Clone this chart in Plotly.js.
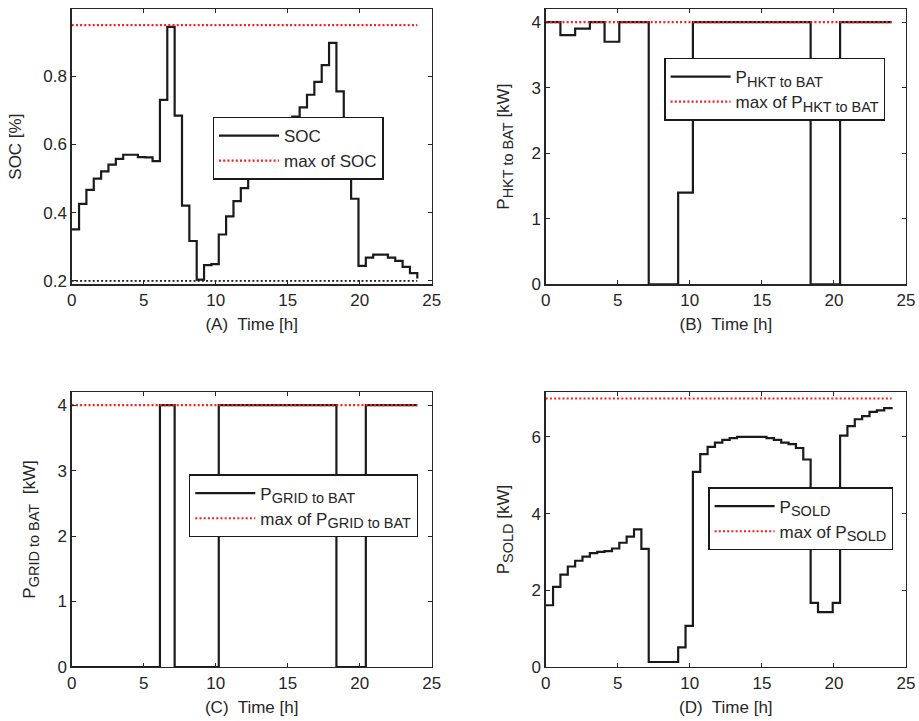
<!DOCTYPE html>
<html>
<head>
<meta charset="utf-8">
<script src="https://cdn.plot.ly/plotly-3.0.1.min.js"></script>
<style>html,body{margin:0;padding:0;background:#fff}#chart{width:919px;height:721px}</style>
</head>
<body>
<div id="chart"></div>
<script>
// ---- data (hours, 48 steps) ----
const tHours = [0, 0.511, 1.021, 1.532, 2.043, 2.553, 3.064, 3.574, 4.085, 4.596, 5.106, 5.617,
  6.128, 6.638, 7.149, 7.660, 8.170, 8.681, 9.191, 9.702, 10.213, 10.723, 11.234, 11.745,
  12.255, 12.766, 13.277, 13.787, 14.298, 14.809, 15.319, 15.830, 16.340, 16.851, 17.362, 17.872,
  18.383, 18.894, 19.404, 19.915, 20.426, 20.936, 21.447, 21.957, 22.468, 22.979, 23.489, 24];

const socValues = [0.351, 0.426, 0.467, 0.500, 0.521, 0.541, 0.558, 0.570, 0.570, 0.563, 0.562, 0.551,
  0.731, 0.945, 0.685, 0.421, 0.317, 0.204, 0.246, 0.249, 0.336, 0.389, 0.434, 0.472,
  0.507, 0.535, 0.562, 0.590, 0.620, 0.650, 0.682, 0.709, 0.746, 0.784, 0.833, 0.898,
  0.756, 0.600, 0.441, 0.244, 0.268, 0.277, 0.277, 0.268, 0.259, 0.241, 0.223, 0.207];
const socMax = 0.95;
const socMin = 0.2;

const hktValues = [4, 4, 3.8, 3.8, 3.9, 3.9, 4, 4, 3.7, 3.7, 4, 4,
  4, 4, 0, 0, 0, 0, 1.4, 1.4, 4, 4, 4, 4,
  4, 4, 4, 4, 4, 4, 4, 4, 4, 4, 4, 4,
  0, 0, 0, 0, 4, 4, 4, 4, 4, 4, 4, 4];
const hktMax = 4;

const gridValues = [0, 0, 0, 0, 0, 0, 0, 0, 0, 0, 0, 0,
  4, 4, 0, 0, 0, 0, 0, 0, 4, 4, 4, 4,
  4, 4, 4, 4, 4, 4, 4, 4, 4, 4, 4, 4,
  0, 0, 0, 0, 4, 4, 4, 4, 4, 4, 4, 4];
const gridMax = 4;

const soldValues = [1.61, 2.09, 2.41, 2.62, 2.77, 2.88, 2.97, 3.00, 3.02, 3.09, 3.24, 3.40,
  3.59, 3.08, 0.13, 0.13, 0.13, 0.13, 0.51, 1.07, 5.09, 5.55, 5.74, 5.85,
  5.92, 5.97, 6.00, 6.00, 6.00, 6.00, 5.97, 5.92, 5.85, 5.81, 5.71, 5.41,
  1.67, 1.43, 1.43, 1.67, 6.03, 6.28, 6.46, 6.54, 6.65, 6.69, 6.75, 6.78];
const soldMax = 7;

const xTickVals = [0, 5, 10, 15, 20, 25];
const socTickVals = [0.2, 0.4, 0.6, 0.8];
const hktTickVals = [0, 1, 2, 3, 4];
const gridTickVals = [0, 1, 2, 3, 4];
const soldTickVals = [0, 2, 4, 6];

// ---- styling ----
const FONT = 'Liberation Sans, Arial, Helvetica, sans-serif';
const TXT = '#262626';
const W = 919, H = 721;
const colX = [[71.7, 431.7], [545.7, 906]];
const rowY = [[9, 284.3], [392, 667]];
const dom = (a, b, tot) => [a / tot, b / tot];
const vdom = (top, bot) => [1 - bot / H, 1 - top / H];
const sub = (s) => "<sub><span style='font-size:14.5px'>" + s + "</span></sub>";

const tEnds = [tHours[0], tHours[tHours.length - 1]];
function flat(v) { return tEnds.map(() => v); }

function stairs(y, name, xa, ya, leg) {
  return {x: tHours, y: y, name: name, type: 'scatter', mode: 'lines', line: {shape: 'hv', color: '#1a1a1a', width: 2.2},
    xaxis: xa, yaxis: ya, legend: leg};
}
function maxLine(v, name, xa, ya, leg) {
  return {x: tEnds, y: flat(v), name: name, type: 'scatter', mode: 'lines', line: {color: '#ff1a1a', width: 2.2, dash: '2px,2.2px'},
    xaxis: xa, yaxis: ya, legend: leg};
}

const traces = [
  stairs(socValues, 'SOC', 'x', 'y', 'legend'),
  maxLine(socMax, 'max of SOC', 'x', 'y', 'legend'),
  {x: tEnds, y: flat(socMin), name: 'min of SOC', type: 'scatter', mode: 'lines', showlegend: false,
    line: {color: '#1a1a1a', width: 1.6, dash: '2px,2.2px'}, xaxis: 'x', yaxis: 'y'},
  stairs(hktValues, 'P' + sub('HKT to BAT'), 'x2', 'y2', 'legend2'),
  maxLine(hktMax, 'max of P' + sub('HKT to BAT'), 'x2', 'y2', 'legend2'),
  stairs(gridValues, 'P' + sub('GRID to BAT'), 'x3', 'y3', 'legend3'),
  maxLine(gridMax, 'max of P' + sub('GRID to BAT'), 'x3', 'y3', 'legend3'),
  stairs(soldValues, 'P' + sub('SOLD'), 'x4', 'y4', 'legend4'),
  maxLine(soldMax, 'max of P' + sub('SOLD'), 'x4', 'y4', 'legend4')
];

function xax(col, row, title, anchor) {
  return {domain: dom(colX[col][0], colX[col][1], W), anchor: anchor, range: [0, 25], tickvals: xTickVals,
    ticks: 'inside', ticklen: 4, tickwidth: 1, tickcolor: TXT, mirror: 'ticks', showline: true, linecolor: TXT, linewidth: 1.3,
    showgrid: false, zeroline: false, tickfont: {family: FONT, size: 17, color: TXT},
    title: {text: title, font: {family: FONT, size: 17, color: TXT}, standoff: 9}};
}
function yax(col, row, title, anchor, range, tv) {
  return {domain: vdom(rowY[row][0], rowY[row][1]), anchor: anchor, range: range, tickvals: tv,
    ticks: 'inside', ticklen: 4, tickwidth: 1, tickcolor: TXT, mirror: 'ticks', showline: true, linecolor: TXT, linewidth: 1.3,
    showgrid: false, zeroline: false, tickfont: {family: FONT, size: 17, color: TXT},
    title: {text: title, font: {family: FONT, size: 17, color: TXT}, standoff: 17}};
}
function leg(xpx, ypx) {
  return {x: xpx / W, y: 1 - ypx / H, xanchor: 'left', yanchor: 'top', xref: 'paper', yref: 'paper',
    bgcolor: '#ffffff', bordercolor: '#1a1a1a', borderwidth: 1.3,
    font: {family: FONT, size: 17, color: TXT}, itemwidth: 60, tracegroupgap: 0};
}

const layout = {
  width: W, height: H, margin: {l: 0, r: 0, t: 0, b: 0}, paper_bgcolor: '#fff', plot_bgcolor: '#fff',
  showlegend: true,
  xaxis: xax(0, 0, '(A)&nbsp; Time [h]', 'y'),
  yaxis: yax(0, 0, 'SOC [%]', 'x', [0.19, 0.9975], socTickVals),
  xaxis2: xax(1, 0, '(B)&nbsp; Time [h]', 'y2'),
  yaxis2: yax(1, 0, 'P' + sub('HKT to BAT') + ' [kW]', 'x2', [0, 4.2], hktTickVals),
  xaxis3: xax(0, 1, '(C)&nbsp; Time [h]', 'y3'),
  yaxis3: yax(0, 1, 'P' + sub('GRID to BAT') + '&nbsp; [kW]', 'x3', [0, 4.2], gridTickVals),
  xaxis4: xax(1, 1, '(D)&nbsp; Time [h]', 'y4'),
  yaxis4: yax(1, 1, 'P' + sub('SOLD') + ' [kW]', 'x4', [0, 7.17], soldTickVals),
  legend: leg(212.7, 116.7),
  legend2: leg(664.3, 57.7),
  legend3: leg(189, 474.3),
  legend4: leg(708.3, 487.3)
};

Plotly.newPlot('chart', traces, layout, {staticPlot: true, displayModeBar: false});
</script>
</body>
</html>
